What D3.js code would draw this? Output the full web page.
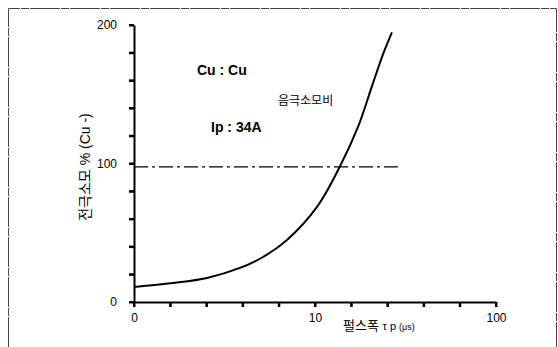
<!DOCTYPE html>
<html>
<head>
<meta charset="utf-8">
<script src="https://cdn.jsdelivr.net/npm/d3@7"></script>
<style>
  body { margin: 0; background: #fff; }
  svg { font-family: Arial, "Liberation Sans", "Noto Sans CJK KR", sans-serif; }
  .axis .domain { stroke: #000; stroke-width: 2px; }
  .axis .tick line { stroke: #000; stroke-width: 2px; }
  .axis .tick text { fill: #000; font-size: 12px; font-family: Arial, "Liberation Sans", sans-serif; }
</style>
</head>
<body>
<div id="chart"></div>
<script>
// pulse width (us) and cathode consumption (%)
var pulseWidth = [1, 1.64, 2.53, 3.85, 5.16, 7.0, 10.26, 13.7, 17.3, 20.6, 23.5, 26.6];
var consumption = [10.8, 13.7, 17.4, 24.6, 32.5, 44.8, 68.7, 97.6, 126.6, 155.5, 177.2, 194.6];

// Ip : 34A reference line
var refX = [1, 28.7];
var refY = [97.5, 97.5];

var xTickValues = [1, 1.585, 2.512, 3.981, 6.31, 10, 15.85, 25.12, 39.81, 63.1, 100];
var xTickLabels = ["0", "", "", "", "", "10", "", "", "", "", "100"];
var yTickValues = [0, 20, 40, 60, 80, 100, 120, 140, 160, 180, 200];
var yTickLabels = ["0", "", "", "", "", "100", "", "", "", "", "200"];

var svgWidth = 558;
var svgHeight = 347;
var margin = { top: 25, bottom: 45, right: 62, left: 134 };
var width = svgWidth - margin.left - margin.right;
var height = svgHeight - margin.top - margin.bottom;

var svg = d3.select("#chart")
    .append("svg")
    .attr("width", svgWidth)
    .attr("height", svgHeight);

// frame of the scanned figure
svg.append("path")
    .attr("d", "M8.5,347 L8.5,8.5 L556.5,8.5 L556.5,347")
    .attr("fill", "none")
    .attr("stroke", "#444")
    .attr("stroke-width", 1)
    .attr("stroke-dasharray", "30,1,8,1");

var chartGroup = svg.append("g")
    .attr("transform", `translate(${margin.left}, ${margin.top})`);

var xScale = d3.scaleLog().domain([1, 100]).range([0, width]);
var yScale = d3.scaleLinear().domain([0, 200]).range([height, 0]);

// reference line
var line = d3.line()
    .x(d => xScale(d[0]))
    .y(d => yScale(d[1]));

chartGroup.append("path")
    .datum(d3.zip(refX, refY))
    .attr("d", line)
    .attr("fill", "none")
    .attr("stroke", "#000")
    .attr("stroke-width", 1.3)
    .attr("stroke-dasharray", "14,4,3,4");

// consumption curve
var curve = d3.line()
    .x(d => xScale(d[0]))
    .y(d => yScale(d[1]))
    .curve(d3.curveCatmullRom.alpha(0.5));

chartGroup.append("path")
    .datum(d3.zip(pulseWidth, consumption))
    .attr("d", curve)
    .attr("fill", "none")
    .attr("stroke", "#000")
    .attr("stroke-width", 2);

var xAxis = d3.axisBottom(xScale)
    .tickValues(xTickValues)
    .tickSizeInner(5)
    .tickSizeOuter(0)
    .tickPadding(6)
    .tickFormat((d, i) => xTickLabels[i]);

var yAxis = d3.axisLeft(yScale)
    .tickValues(yTickValues)
    .tickSizeInner(5)
    .tickSizeOuter(0)
    .tickPadding(12)
    .tickFormat((d, i) => yTickLabels[i]);

chartGroup.append("g")
    .attr("class", "axis")
    .attr("transform", `translate(0, ${height})`)
    .call(xAxis);

chartGroup.append("g")
    .attr("class", "axis")
    .call(yAxis);

// tick marks drawn again as plain lines so they stay visible
chartGroup.append("g").selectAll("line")
    .data(yTickValues)
    .enter()
    .append("line")
    .attr("x1", -5).attr("x2", 0)
    .attr("y1", d => yScale(d)).attr("y2", d => yScale(d))
    .attr("stroke", "#000")
    .attr("stroke-width", 2);

chartGroup.append("g").selectAll("line")
    .data(xTickValues)
    .enter()
    .append("line")
    .attr("x1", d => xScale(d)).attr("x2", d => xScale(d))
    .attr("y1", height).attr("y2", height + 5)
    .attr("stroke", "#000")
    .attr("stroke-width", 2);

// annotations
svg.append("text")
    .attr("x", 197).attr("y", 75)
    .style("font-size", "14px")
    .style("font-weight", "bold")
    .text("Cu : Cu");

svg.append("text")
    .attr("x", 278).attr("y", 105)
    .style("font-size", "12px")
    .text("음극소모비");

svg.append("text")
    .attr("x", 211).attr("y", 132)
    .style("font-size", "14px")
    .style("font-weight", "bold")
    .text("Ip : 34A");

// axis labels
svg.append("text")
    .attr("transform", "translate(90, 167) rotate(-90)")
    .attr("text-anchor", "middle")
    .style("font-size", "14px")
    .text("전극소모 % (Cu -)");

var xl = svg.append("text")
    .attr("x", 343).attr("y", 330)
    .style("font-size", "13px");
xl.append("tspan").text("펄스폭  ");
xl.append("tspan").style("font-size", "11px").text("τ p ");
xl.append("tspan").style("font-size", "9px").text("(μs)");
</script>
</body>
</html>
